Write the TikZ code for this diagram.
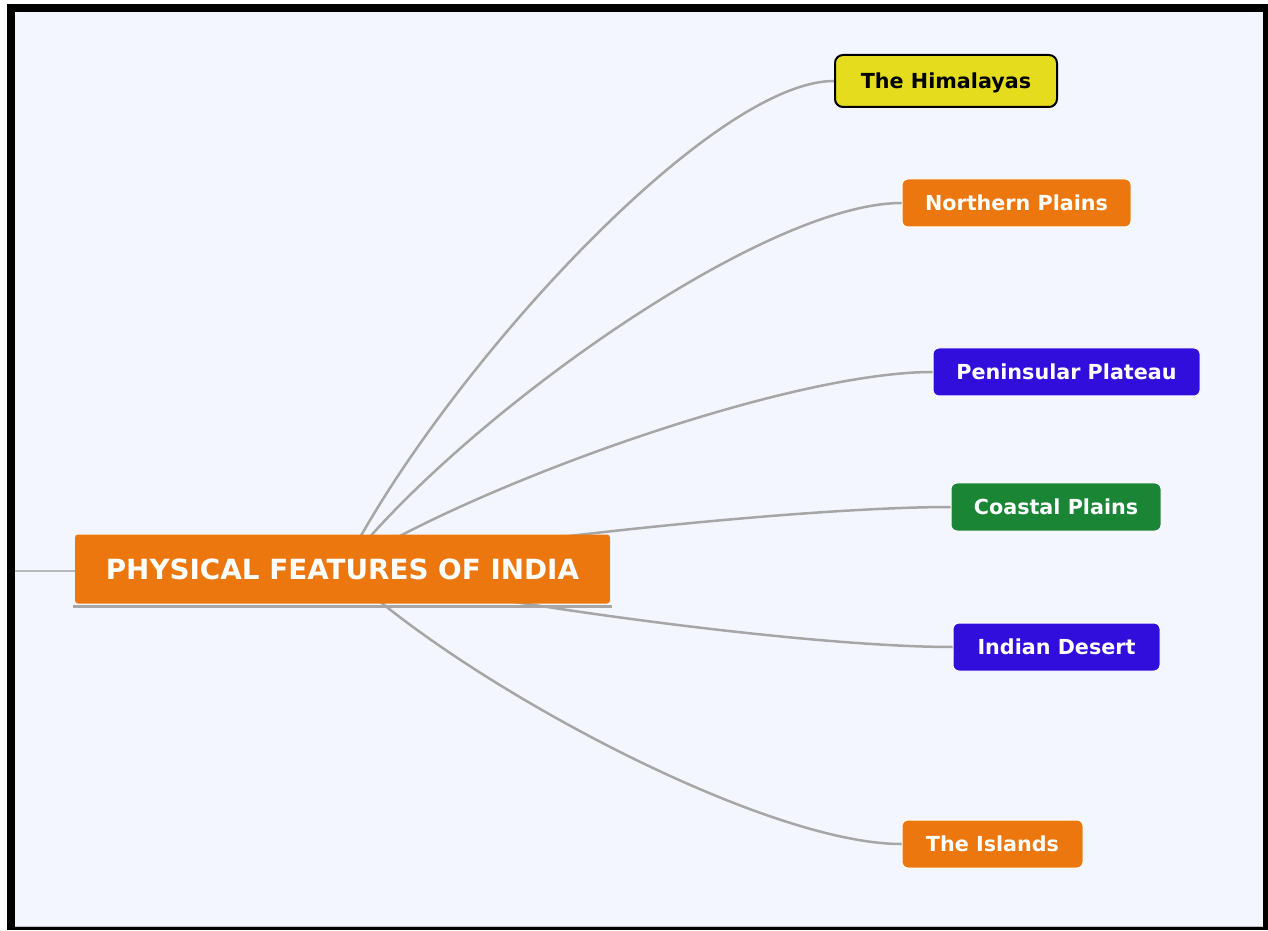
\documentclass[tikz,border=0pt]{standalone}
\usepackage{fontspec}
\setmainfont{DejaVu Sans}
\usepackage{xcolor}
\usepackage{tikz}
\usetikzlibrary{calc}
\definecolor{pagebg}{HTML}{F3F6FE}
\definecolor{mmorange}{HTML}{EC770F}
\definecolor{mmblue}{HTML}{310EDC}
\definecolor{mmgreen}{HTML}{1A8535}
\definecolor{mmyellow}{HTML}{E5DC1E}
\definecolor{linkgrey}{HTML}{A6A6A6}
\tikzset{topic/.style={rectangle, rounded corners=6pt, draw=white, line width=1pt,
  text=white, font=\bfseries\fontsize{20.7}{24}\selectfont,
  minimum height=48pt, inner sep=0pt, text height=15pt, text depth=0pt}}
\tikzset{central/.style={rectangle, rounded corners=3pt, fill=mmorange, text=white,
  font=\bfseries\fontsize{27.8}{32}\selectfont,
  minimum width=535pt, minimum height=69pt, inner sep=0pt, text height=20pt, text depth=0pt},
link/.style={draw=linkgrey, line width=2.5pt}}

\begin{document}
\begin{tikzpicture}[x=1pt,y=1pt]
 %Frame and page
 \fill[white] (0,0) rectangle (1268,930);
 \fill[black] (7,0) rectangle (1268,926);
 \fill[pagebg] (15,4) rectangle (1263,918);
 \draw[linkgrey!70, line width=1pt] (15,4) -- (1263,4);
 \useasboundingbox (0,0) rectangle (1268,930);

 %Branch topics
 \node (himal) [topic, fill=mmyellow, draw=black, line width=2pt, rounded corners=8pt,
   text=black, minimum width=222pt, minimum height=52pt] at (946,849) {The Himalayas};
 \node (nplains) [topic, fill=mmorange, minimum width=229pt] at (1016.5,727) {Northern Plains};
 \node (plateau) [topic, fill=mmblue, minimum width=267pt] at (1066.5,558) {Peninsular Plateau};
 \node (coast) [topic, fill=mmgreen, minimum width=210pt] at (1056,423) {Coastal Plains};
 \node (desert) [topic, fill=mmblue, minimum width=207pt] at (1056.5,283) {Indian Desert};
 \node (islands) [topic, fill=mmorange, minimum width=181pt] at (992.5,86) {The Islands};

 %Curved links from the centre of the main topic
 \coordinate (org) at (343,361);
 \draw[link] (org) .. controls +(99,195) and +(-124,0) .. (himal.west);
 \draw[link] (org) .. controls +(113,146) and +(-141,0) .. (nplains.west);
 \draw[link] (org) .. controls +(119,79) and +(-149,0) .. (plateau.west);
 \draw[link] (org) .. controls +(123,25) and +(-153,0) .. (coast.west);
 \draw[link] (org) .. controls +(123,-31) and +(-154,0) .. (desert.west);
 \draw[link] (org) .. controls +(113,-110) and +(-141,0) .. (islands.west);

 %Main topic
 \coordinate (lstub) at (15,359);
 \draw[linkgrey!80, line width=1.5pt] (lstub) -- (75,359);
 \node (main) [central] at (342.5,361) {PHYSICAL FEATURES OF INDIA};
 \draw[linkgrey, line width=3pt] ([shift={(-2,-3)}]main.south west) -- ([shift={(2,-3)}]main.south east);

\end{tikzpicture}
\end{document}
